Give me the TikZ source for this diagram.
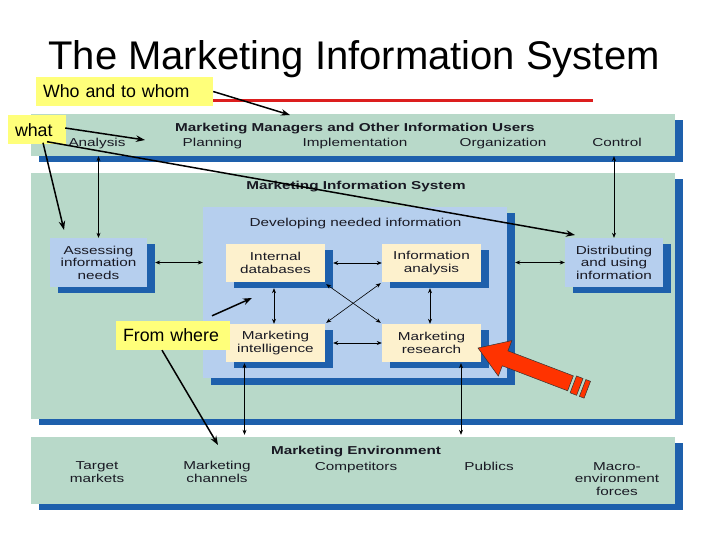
\documentclass[tikz,border=0pt]{standalone}
\usepackage{fontspec}
\setmainfont{Liberation Sans}
\newfontfamily\diag[FakeStretch=1.33]{Liberation Sans}
\usetikzlibrary{arrows.meta,shadows,calc}
\definecolor{bandc}{RGB}{184,217,201}
\definecolor{shadec}{RGB}{30,96,172}
\definecolor{lbluec}{RGB}{182,207,238}
\definecolor{creamc}{RGB}{253,241,205}
\definecolor{labc}{RGB}{255,255,122}
\definecolor{redc}{RGB}{255,51,0}
\definecolor{linec}{RGB}{220,30,30}
\definecolor{txtc}{RGB}{25,25,35}
\begin{document}
\begin{tikzpicture}[x=1pt,y=-1pt,
  panel/.style={rectangle, draw=none, inner sep=0pt,
    general shadow={fill=shadec, shadow xshift=8pt, shadow yshift=-6pt}},
  band/.style={panel, fill=bandc, minimum width=644pt},
  bluebox/.style={panel, fill=lbluec},
  creambox/.style={panel, fill=creamc, minimum width=99pt, minimum height=38pt},
  dtext/.style={font=\diag\fontsize{11.5}{12.5}\selectfont, text=txtc, inner sep=0pt, align=center},
  dbold/.style={font=\diag\bfseries\fontsize{11.5}{12.5}\selectfont, text=txtc, inner sep=0pt, align=center},
  conn/.style={{Stealth[length=5pt,width=4pt]}-{Stealth[length=5pt,width=4pt]}, line width=0.6pt, draw=black},
  ann/.style={-{Stealth[length=9pt,width=6.5pt]}, line width=1.5pt, draw=black},
  labbox/.style={fill=labc, font=\fontsize{17.8}{20}\selectfont, align=left, inner ysep=0pt, inner xsep=7pt, minimum height=29pt},
]
\useasboundingbox (0,0) rectangle (720,540);
\fill[white] (0,0) rectangle (720,540);

% title
\node[font=\fontsize{40}{44}\selectfont, inner sep=0pt, anchor=base] (title) at (354,70) {The Marketing Information System};

% bands
\node[band, minimum height=42pt] (mgr) at (353,135) {};
\node[band, minimum height=246pt] (mis) at (353,296) {};
\node[band, minimum height=67pt] (env) at (353,470.5) {};

% band texts
\node[dbold, anchor=base] (mgrt) at (355,132) {Marketing Managers and Other Information Users};
\node[dtext, anchor=base] (anal) at (97,147) {Analysis};
\node[dtext, anchor=base] (plan) at (212.5,147) {Planning};
\node[dtext, anchor=base] (impl) at (355,147) {Implementation};
\node[dtext, anchor=base] (orga) at (503,147) {Organization};
\node[dtext, anchor=base] (ctrl) at (617,147) {Control};

\node[dbold, anchor=base] (mist) at (356,190) {Marketing Information System};

\node[dbold, anchor=base] (envt) at (356,454.5) {Marketing Environment};
\node[dtext] (targ) at (97,472) {Target\\markets};
\node[dtext] (chan) at (217,472) {Marketing\\channels};
\node[dtext, anchor=base] (comp) at (356,470.5) {Competitors};
\node[dtext, anchor=base] (publ) at (489,470.5) {Publics};
\node[dtext] (macr) at (617,479) {Macro-\\environment\\forces};

% inner panel
\node[bluebox, minimum width=304pt, minimum height=171pt, general shadow={fill=shadec, shadow xshift=8pt, shadow yshift=-7pt}] (inner) at (355,292.5) {};
\node[dtext, anchor=base] (innt) at (355.5,226.5) {Developing needed information};

\node[bluebox, minimum width=97pt, minimum height=49pt] (assess) at (98.5,262.5) {};
\node[dtext] at (assess) {Assessing\\information\\needs};
\node[bluebox, minimum width=98pt, minimum height=49pt] (dist) at (614,262.5) {};
\node[dtext] at (dist) {Distributing\\and using\\information};

\node[creambox] (idb) at (275.5,263) {};
\node[dtext] at (idb) {Internal\\databases};
\node[creambox] (ia) at (431.5,263) {};
\node[dtext] at (ia) {Information\\analysis};
\node[creambox] (mi) at (275.5,343) {};
\node[dtext] at (mi) {Marketing\\intelligence};
\node[creambox] (mr) at (431.5,343) {};
\node[dtext] at (mr) {Marketing\\research};

% connectors
\draw[conn] (assess.north) -- (assess.north |- mgr.south);
\draw[conn] (dist.north) -- (dist.north |- mgr.south);
\draw[conn] ($(assess.east)+(8,0)$) -- (assess.east -| inner.west);
\draw[conn] ($(inner.east |- dist.west)+(8,0)$) -- (dist.west);
\draw[conn] ($(idb.east)+(8,0)$) -- (ia.west);
\draw[conn] ($(mi.east)+(8,0)$) -- (mr.west);
\draw[conn] ($(idb.south)+(-1.5,6)$) -- ($(mi.north)+(-1.5,0)$);
\draw[conn] ($(ia.south)+(-1.5,6)$) -- ($(mr.north)+(-1.5,0)$);
\draw[conn] ($(idb.south east)+(1,2)$) -- ($(mr.north west)+(-1,-1)$);
\draw[conn] ($(ia.south west)+(-1,1)$) -- ($(mi.north east)+(1,-1)$);
\coordinate (mib) at ($(mi.south)+(-31,1)$);
\coordinate (mrb) at ($(mr.south)+(29.5,1)$);
\draw[conn] (mib) -- ($(mib |- env.north)+(0,-2)$);
\draw[conn] (mrb) -- ($(mrb |- env.north)+(0,-2)$);

% red line
\coordinate (rl1) at (213,101);
\coordinate (rl2) at (593,101);
\draw[linec, line width=3pt] (rl1) -- (rl2);

% annotation labels
\node[labbox, text width=163pt] (who) at (124.5,91.5) {Who and to whom};
\node[labbox, text width=44pt] (what) at (37,130) {what};
\node[labbox, text width=100pt] (fw) at (173,335.5) {From where};

% annotation arrows
\coordinate (whoend) at (290,115);
\coordinate (whatend1) at (145,140);
\coordinate (whatend2) at (575,235);
\coordinate (whatend3) at (64,230);
\coordinate (fwend1) at (252,298);
\coordinate (fwend2) at (218,445);
\draw[ann] (who.east) -- (whoend);
\draw[ann] ($(what.east)+(-1,-2)$) -- (whatend1);
\draw[ann] ($(what.south)+(10,-3)$) -- (whatend2);
\draw[ann] ($(what.south)+(6,-2)$) -- (whatend3);
\draw[ann] ($(fw.north)+(39,-5)$) -- (fwend1);
\draw[ann] ($(fw.south)+(-11,0)$) -- (fwend2);

% red block arrow
\begin{scope}[shift={(478,348)}, rotate=-20.9]
  \filldraw[fill=redc, draw=black!80, line width=0.5pt]
    (0,0) -- (29,-19) -- (29,-8) -- (99,-8) -- (99,8) -- (29,8) -- (29,19) -- cycle;
  \filldraw[fill=redc, draw=black!80, line width=0.5pt] (102,-9) rectangle (109,9);
  \filldraw[fill=redc, draw=black!80, line width=0.5pt] (112,-9) rectangle (117,9);
\end{scope}
\end{tikzpicture}
\end{document}
